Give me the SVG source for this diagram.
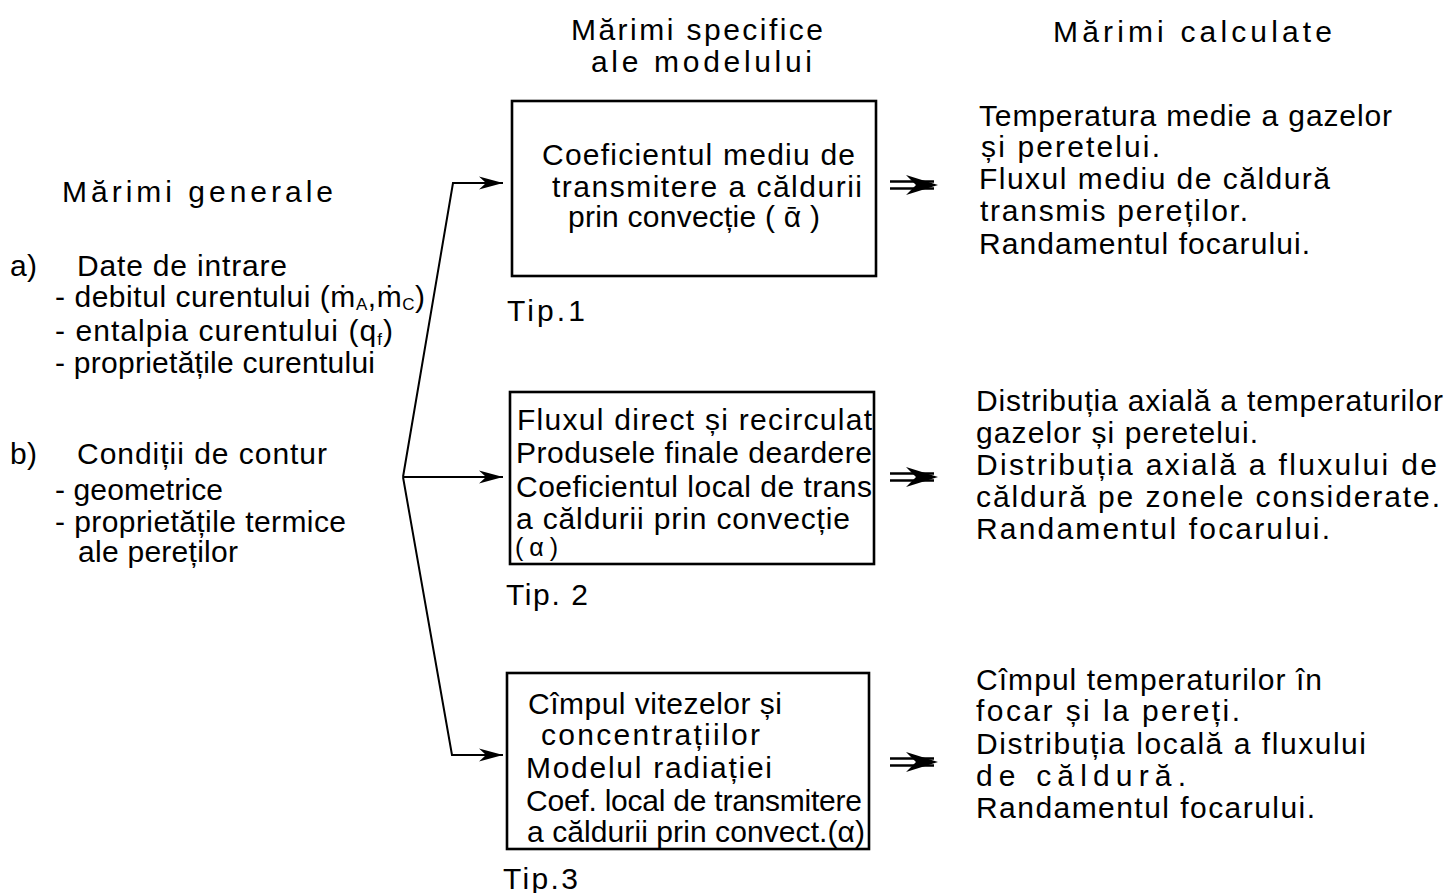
<svg xmlns="http://www.w3.org/2000/svg" width="1449" height="893" viewBox="0 0 1449 893">
<style>
text{font-family:"Liberation Sans","DejaVu Sans",sans-serif;font-size:30px;fill:#000;}
.sub{font-size:17px;}
.sm{font-size:25px;}
.box{fill:none;stroke:#000;stroke-width:2.6;}
.con{fill:none;stroke:#000;stroke-width:2;}
.dbl{fill:none;stroke:#000;stroke-width:2.4;}
</style>
<defs>
<marker id="ah" markerWidth="26" markerHeight="14" refX="24" refY="7" orient="auto" markerUnits="userSpaceOnUse">
<path d="M0,0.5 L24,7 L0,13.5 L7,7 Z" fill="#000"/>
</marker>
<g id="dblarrow">
<line x1="0" y1="-3.5" x2="44" y2="-3.5" class="dbl"/>
<line x1="0" y1="3.5" x2="44" y2="3.5" class="dbl"/>
<path d="M16,-10 L48,0 L16,10 L26,0 Z" fill="#000"/>
</g>
</defs>

<g id="headers">
<text x="571" y="40" textLength="252" lengthAdjust="spacing">Mărimi specifice</text>
<text x="591" y="72" textLength="221" lengthAdjust="spacing">ale modelului</text>
<text x="1053" y="42" textLength="279" lengthAdjust="spacing">Mărimi calculate</text>
</g>

<g id="marimi-generale">
<text x="62" y="202" textLength="271" lengthAdjust="spacing">Mărimi generale</text>
<text x="10" y="276" textLength="27" lengthAdjust="spacing">a)</text>
<text x="77" y="276" textLength="210" lengthAdjust="spacing">Date de intrare</text>
<text x="55" y="307" textLength="370" lengthAdjust="spacing">- debitul curentului (ṁ<tspan class="sub" dy="3">A</tspan><tspan dy="-3">,ṁ</tspan><tspan class="sub" dy="3">C</tspan><tspan dy="-3">)</tspan></text>
<text x="55" y="341" textLength="338" lengthAdjust="spacing">- entalpia curentului (q<tspan class="sub" dy="4">f</tspan><tspan dy="-4">)</tspan></text>
<text x="55" y="373" textLength="320" lengthAdjust="spacing">- proprietățile curentului</text>
<text x="10" y="464" textLength="27" lengthAdjust="spacing">b)</text>
<text x="77" y="464" textLength="250" lengthAdjust="spacing">Condiții de contur</text>
<text x="55" y="500" textLength="168" lengthAdjust="spacing">- geometrice</text>
<text x="55" y="532" textLength="291" lengthAdjust="spacing">- proprietățile termice</text>
<text x="78" y="562" textLength="160" lengthAdjust="spacing">ale pereților</text>
</g>

<g id="tip1">
<rect x="512" y="101" width="364" height="175" class="box"/>
<text x="542" y="165" textLength="313" lengthAdjust="spacing">Coeficientul mediu de</text>
<text x="552" y="197" textLength="310" lengthAdjust="spacing">transmitere a căldurii</text>
<text x="568" y="227" textLength="252" lengthAdjust="spacing">prin convecție ( ᾱ )</text>
<text x="507" y="321" textLength="78" lengthAdjust="spacing">Tip.1</text>
</g>

<g id="tip2">
<rect x="510" y="392" width="364" height="172" class="box"/>
<text x="517" y="430" textLength="355" lengthAdjust="spacing">Fluxul direct și recirculat</text>
<text x="516" y="463" textLength="356" lengthAdjust="spacing">Produsele finale deardere</text>
<text x="516" y="497" textLength="356" lengthAdjust="spacing">Coeficientul local de trans</text>
<text x="516" y="529" textLength="334" lengthAdjust="spacing">a căldurii prin convecție</text>
<text x="515" y="556" class="sm" textLength="43" lengthAdjust="spacing">( α )</text>
<text x="506" y="605" textLength="82" lengthAdjust="spacing">Tip. 2</text>
</g>

<g id="tip3">
<rect x="507" y="673" width="362" height="176" class="box"/>
<text x="528" y="714" textLength="254" lengthAdjust="spacing">Cîmpul vitezelor și</text>
<text x="541" y="745" textLength="219" lengthAdjust="spacing">concentrațiilor</text>
<text x="526" y="778" textLength="246" lengthAdjust="spacing">Modelul radiației</text>
<text x="526" y="811" textLength="336" lengthAdjust="spacing">Coef. local de transmitere</text>
<text x="527" y="842" textLength="338" lengthAdjust="spacing">a căldurii prin convect.(α)</text>
<text x="503" y="889" textLength="75" lengthAdjust="spacing">Tip.3</text>
</g>

<g id="rezultat1">
<text x="979" y="126" textLength="413" lengthAdjust="spacing">Temperatura medie a gazelor</text>
<text x="981" y="157" textLength="179" lengthAdjust="spacing">și peretelui.</text>
<text x="979" y="189" textLength="351" lengthAdjust="spacing">Fluxul mediu de căldură</text>
<text x="980" y="221" textLength="268" lengthAdjust="spacing">transmis pereților.</text>
<text x="979" y="254" textLength="331" lengthAdjust="spacing">Randamentul focarului.</text>
</g>

<g id="rezultat2">
<text x="976" y="411" textLength="467" lengthAdjust="spacing">Distribuția axială a temperaturilor</text>
<text x="976" y="443" textLength="282" lengthAdjust="spacing">gazelor și peretelui.</text>
<text x="976" y="475" textLength="461" lengthAdjust="spacing">Distribuția axială a fluxului de</text>
<text x="976" y="507" textLength="464" lengthAdjust="spacing">căldură pe zonele considerate.</text>
<text x="976" y="539" textLength="354" lengthAdjust="spacing">Randamentul focarului.</text>
</g>

<g id="rezultat3">
<text x="976" y="690" textLength="346" lengthAdjust="spacing">Cîmpul temperaturilor în</text>
<text x="976" y="721" textLength="264" lengthAdjust="spacing">focar și la pereți.</text>
<text x="976" y="754" textLength="390" lengthAdjust="spacing">Distribuția locală a fluxului</text>
<text x="976" y="786" textLength="210" lengthAdjust="spacing">de căldură.</text>
<text x="976" y="818" textLength="339" lengthAdjust="spacing">Randamentul focarului.</text>
</g>

<g id="connectors">
<polyline points="403,477 453,183 503,183" class="con" marker-end="url(#ah)"/>
<line x1="403" y1="477" x2="503" y2="477" class="con" marker-end="url(#ah)"/>
<polyline points="403,477 452,755 503,755" class="con" marker-end="url(#ah)"/>
<use href="#dblarrow" x="890" y="185"/>
<use href="#dblarrow" x="890" y="477"/>
<use href="#dblarrow" x="890" y="762"/>
</g>
</svg>
